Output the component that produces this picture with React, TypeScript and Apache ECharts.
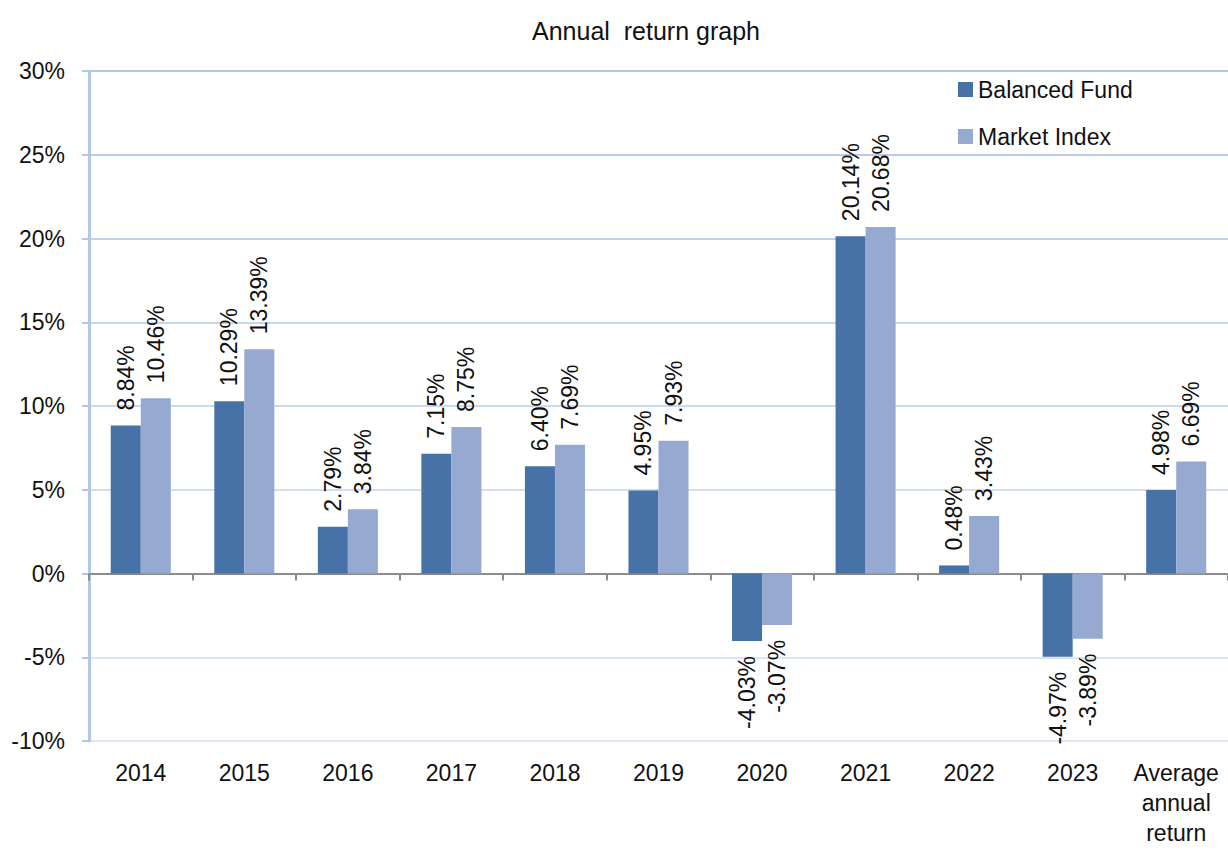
import React, { useEffect, useRef } from "react";
import * as echarts from "echarts";

const categories = ["2014", "2015", "2016", "2017", "2018", "2019", "2020", "2021", "2022", "2023", "Average\nannual\nreturn"];
const balancedFund = [8.84, 10.29, 2.79, 7.15, 6.4, 4.95, -4.03, 20.14, 0.48, -4.97, 4.98];
const marketIndex = [10.46, 13.39, 3.84, 8.75, 7.69, 7.93, -3.07, 20.68, 3.43, -3.89, 6.69];
const seriesNames = ["Balanced Fund", "Market Index"];
const yTicks = { min: -10, max: 30, interval: 5 };

const FONT = "'Liberation Sans', Arial, sans-serif";

function toData(vals: number[]) {
  return vals.map((v) => ({
    value: v,
    label:
      v < 0
        ? { position: "bottom", align: "right" }
        : { position: "top", align: "left" },
  }));
}

export default function App() {
  const ref = useRef<HTMLDivElement>(null);
  useEffect(() => {
    document.body.style.margin = "0";
    const chart = echarts.init(ref.current!, null, { renderer: "svg" });
    const label = {
      show: true,
      rotate: 90,
      verticalAlign: "middle",
      distance: 15,
      fontFamily: FONT,
      fontSize: 23,
      color: "#111",
      formatter: (p: any) => p.value.toFixed(2) + "%",
    };
    chart.setOption({
      animation: false,
      backgroundColor: "#fff",
      title: {
        text: "Annual  return graph",
        left: 641,
        textAlign: "center",
        top: 13,
        textStyle: { fontFamily: FONT, fontSize: 25, fontWeight: "normal", color: "#111" },
      },
      legend: {
        orient: "vertical",
        left: 953,
        top: 73,
        itemWidth: 15,
        itemHeight: 15,
        itemGap: 24,
        icon: "rect",
        textStyle: { fontFamily: FONT, fontSize: 23, color: "#111" },
        data: seriesNames,
      },
      grid: { left: 89, right: 0, top: 71, bottom: 109, outerBoundsMode: "none", containLabel: false },
      xAxis: {
        type: "category",
        data: categories,
        axisLine: { onZero: true, lineStyle: { color: "#8c8c8c", width: 2 } },
        axisTick: { show: true, length: 7, lineStyle: { color: "#8c8c8c", width: 2 } },
        axisLabel: {
          interval: 0,
          margin: 17,
          fontFamily: FONT,
          fontSize: 23,
          lineHeight: 30,
          color: "#111",
          verticalAlign: "top",
        },
      },
      yAxis: {
        type: "value",
        min: yTicks.min,
        max: yTicks.max,
        interval: yTicks.interval,
        axisLine: { show: true, lineStyle: { color: "#b4c7e7", width: 3 } },
        axisTick: { show: true, length: 7, lineStyle: { color: "#b4c7e7", width: 2 } },
        axisLabel: {
          margin: 24,
          fontFamily: FONT,
          fontSize: 23,
          color: "#111",
          formatter: (v: number) => v + "%",
        },
        splitLine: {
          show: true,
          lineStyle: {
            width: 2,
            color: ["#dfe7f6", "#dce5f5", "#d8e2f4", "#d3def3", "#cdd9f1", "#c7d5ef", "#c1d0ed", "#bbcbeb", "#b2c6ea"],
          },
        },
      },
      series: [
        {
          name: seriesNames[0],
          type: "bar",
          data: toData(balancedFund),
          itemStyle: { color: "#4672a8" },
          barGap: "0%",
          barCategoryGap: "42%",
          label,
        },
        {
          name: seriesNames[1],
          type: "bar",
          data: toData(marketIndex),
          itemStyle: { color: "#95a9d1" },
          barGap: "0%",
          barCategoryGap: "42%",
          label,
        },
      ],
    });
    return () => chart.dispose();
  }, []);
  return <div ref={ref} style={{ width: 1228, height: 850 }} />;
}
